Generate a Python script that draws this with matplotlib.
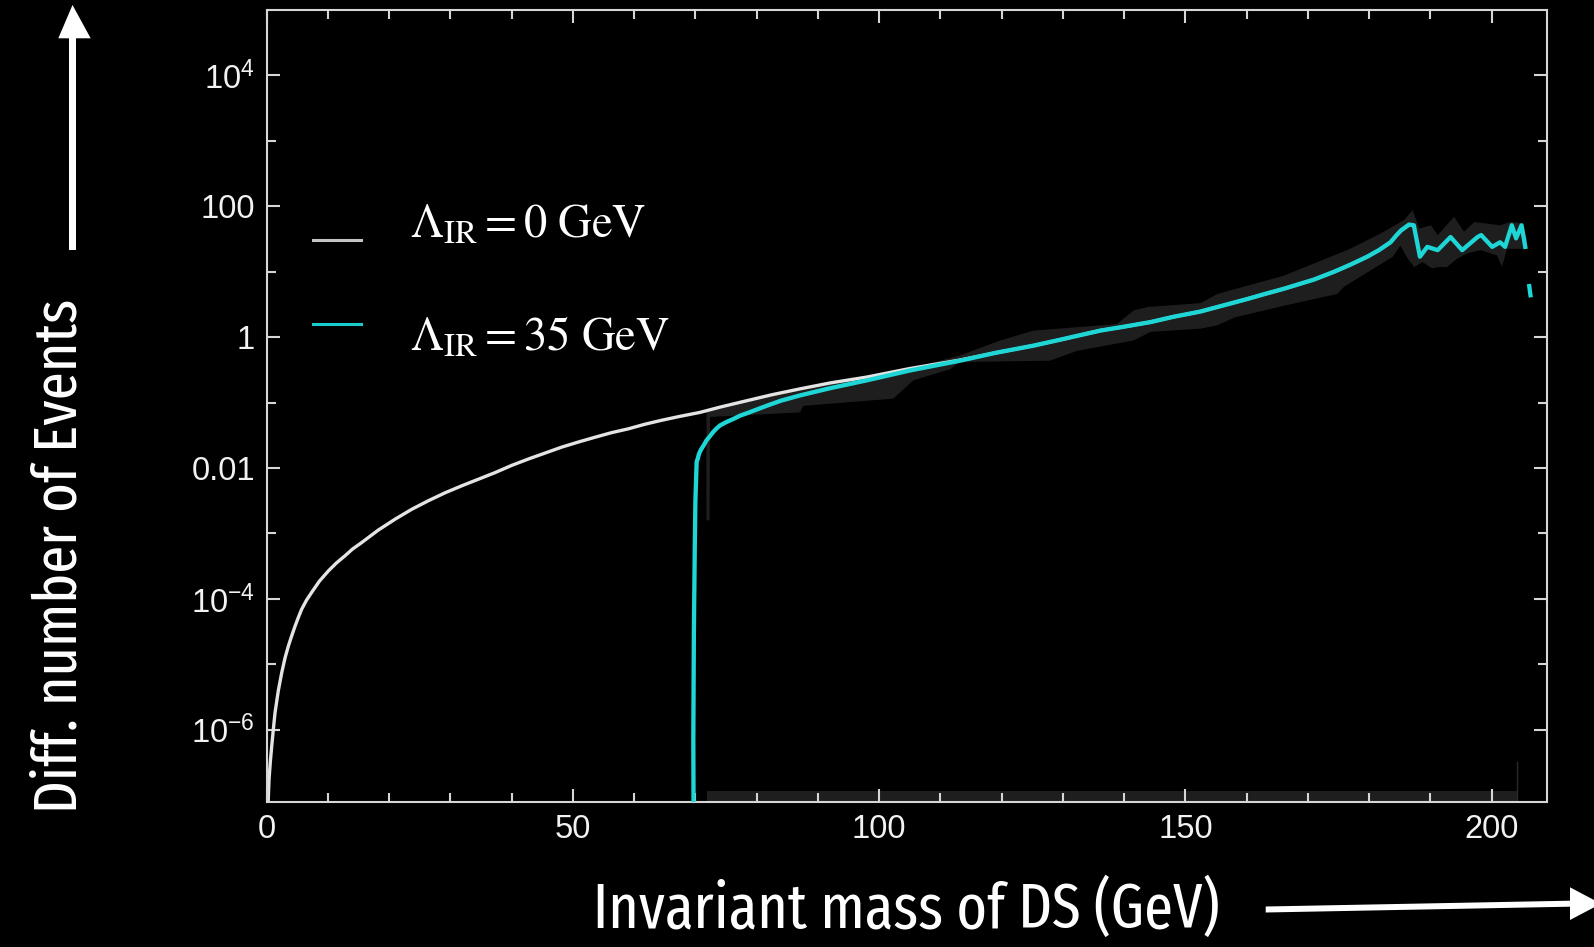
import os
import numpy as np
import matplotlib
matplotlib.use('Agg')
import matplotlib.pyplot as plt
from matplotlib import font_manager as fm
from matplotlib.lines import Line2D
from matplotlib.patches import Polygon
from matplotlib.ticker import FixedLocator, NullFormatter

W, H = 1594, 947

# ---------------- data ----------------
white_x = [0.2, 0.38, 0.6, 0.82, 1.1, 1.36, 1.9, 2.45, 3.0, 3.54, 4.1, 4.62, 5.1, 5.7,
           6.5, 7.35, 8.6, 10.1, 11.4, 12.8, 14.0, 15.5, 18.2, 21.0, 23.7, 26.4, 29.1,
           31.9, 34.6, 37.3, 40.0, 42.8, 45.5, 48.2, 51.0, 53.6, 56.3, 59.1, 61.8,
           64.5, 67.5, 70.75, 74.0, 78.0, 82.5, 87.1, 92.0, 98.0, 105.0, 113.2,
           119.0, 125.2, 130.0, 136.1, 140.0, 144.3, 148.0, 152.4, 156.0, 160.0,
           163.0, 166.1, 171.0, 174.3, 177.0, 179.7, 181.6, 183.5, 184.4, 185.2, 186.3]
white_log10 = [-7.2, -6.76, -6.48, -6.25, -5.98, -5.74, -5.40, -5.13, -4.90, -4.72,
               -4.56, -4.42, -4.30, -4.16, -4.02, -3.90, -3.73, -3.57, -3.45, -3.34,
               -3.24, -3.14, -2.95, -2.78, -2.63, -2.50, -2.38, -2.27, -2.17, -2.07,
               -1.96, -1.86, -1.77, -1.68, -1.60, -1.53, -1.46, -1.40, -1.33, -1.27,
               -1.21, -1.15, -1.07, -0.98, -0.88, -0.79, -0.70, -0.61, -0.48, -0.35,
               -0.24, -0.13, -0.03, 0.10, 0.16, 0.23, 0.31, 0.39, 0.48, 0.58, 0.66,
               0.74, 0.88, 1.0, 1.11, 1.23, 1.33, 1.45, 1.55, 1.63, 1.70]

cyan_x = [69.7, 69.66, 69.75, 69.9, 70.0, 70.2, 70.4, 70.6, 70.9, 71.3, 71.8, 72.4,
          72.9, 73.4, 74.0, 75.0, 76.2, 77.3, 78.5, 81.6, 84.0, 87.1, 92.0, 98.0,
          105.0, 113.2, 119.0, 125.2, 130.0, 136.1, 140.0, 144.3, 148.0, 152.4, 156.0,
          160.0, 163.0, 166.1, 171.0, 174.3, 177.0, 179.7, 181.6, 183.5, 184.4, 185.2,
          186.5, 187.3, 188.3, 189.5, 191.2, 193.3, 195.2, 197.7, 198.3, 200.1, 201.4,
          202.2, 203.3, 204.0, 204.9, 205.5, np.nan, 206.15, 206.35]
cyan_log10 = [-7.3, -6.15, -4.5, -3.19, -2.5, -1.91, -1.85, -1.78, -1.72, -1.66, -1.58,
              -1.51, -1.45, -1.40, -1.35, -1.30, -1.25, -1.20, -1.16, -1.05, -0.97,
              -0.89, -0.78, -0.66, -0.51, -0.36, -0.24, -0.13, -0.03, 0.10, 0.16, 0.23,
              0.31, 0.39, 0.48, 0.58, 0.66, 0.74, 0.88, 1.0, 1.11, 1.23, 1.33, 1.45,
              1.55, 1.63, 1.72, 1.71, 1.23, 1.38, 1.33, 1.53, 1.33, 1.53, 1.56, 1.38,
              1.45, 1.38, 1.71, 1.51, 1.71, 1.38, np.nan, 0.78, 0.64]

band_hi_x = [71.8, 72.7, 78.0, 87.1, 98.0, 105.0, 113.2, 119.8, 125.2, 138.8, 141.6,
             143.8, 152.5, 155.2, 166.1, 176.9, 182.4, 185.7, 187.1, 188.2, 190.1,
             191.2, 193.9, 195.5, 197.2, 201.4, 203.1, 205.0, 205.8]
band_hi_log10 = [-1.13, -1.12, -0.98, -0.79, -0.61, -0.48, -0.28, -0.05, 0.10, 0.20,
                 0.41, 0.46, 0.52, 0.66, 0.94, 1.35, 1.61, 1.79, 1.94, 1.66, 1.71,
                 1.56, 1.84, 1.61, 1.76, 1.71, 1.76, 1.74, 1.5]
band_lo_x = [71.8, 72.3, 72.4, 87.1, 87.6, 102.3, 105.6, 111.6, 113.2, 127.9, 132.3,
             141.6, 144.3, 152.5, 155.2, 158.0, 166.1, 174.8, 175.9, 183.9, 185.1,
             186.3, 187.4, 188.7, 190.3, 191.2, 192.7, 194.4, 196.0, 198.2, 200.9,
             201.7, 202.5, 205.8]
band_lo_log10 = [-2.80, -2.80, -1.22, -1.15, -1.05, -0.94, -0.66, -0.49, -0.38, -0.36,
                 -0.21, -0.05, 0.08, 0.13, 0.18, 0.30, 0.48, 0.66, 0.77, 1.23, 1.40,
                 1.20, 1.07, 1.15, 1.05, 1.07, 1.07, 1.20, 1.28, 1.33, 1.25, 1.07,
                 1.35, 1.35]

floor_band_x = [71.9, 204.1]
floor_band_log10 = [-6.93, -6.93]
floor_line_x = [204.1, 204.1]
floor_line_log10 = [-8.0, -6.5]

legend_labels = [r'$\Lambda_{\mathrm{IR}} = 0\ \mathrm{GeV}$',
                 r'$\Lambda_{\mathrm{IR}} = 35\ \mathrm{GeV}$']
xticks = [0, 50, 100, 150, 200]
xtick_labels = ['0', '50', '100', '150', '200']
xminor = [10, 20, 30, 40, 60, 70, 80, 90, 110, 120, 130, 140, 160, 170, 180, 190]
yticks = [1e4, 1e2, 1, 1e-2, 1e-4, 1e-6]
ytick_labels = [r'$\mathregular{10^{4}}$', '100', '1', '0.01',
                r'$\mathregular{10^{-4}}$', r'$\mathregular{10^{-6}}$']
yminor = [1e3, 1e1, 1e-1, 1e-3, 1e-5]
xlabel = 'Invariant mass of DS (GeV)'
ylabel = 'Diff. number of Events'

# ---------------- style ----------------
WHITE_C = '#e4e4e4'
CYAN_C = '#1ed6d6'
BAND_C = '#1e1e1e'
FRAME_C = '#d6d6d6'

plt.rcParams['font.family'] = ['Liberation Sans', 'DejaVu Sans']


def pick_condensed():
    bad = ('bold', 'black', 'light', 'thin', 'medium', 'semi', 'italic', 'oblique',
           'heavy', 'demi', 'book', 'mono')
    best = None
    for f in fm.fontManager.ttflist:
        fn = os.path.basename(f.fname).lower()
        s = (fn + ' ' + f.name.lower()).replace(' ', '').replace('-', '').replace('_', '')
        if any(b in fn for b in bad):
            continue
        if 'extracondensed' in s or 'ultracondensed' in s:
            score = 0
        elif 'condensed' in s or 'narrow' in s:
            score = 1
        else:
            continue
        if best is None or score < best[0]:
            best = (score, f.fname)
    if best is None:
        return fm.FontProperties(family='Liberation Sans')
    return fm.FontProperties(fname=best[1])


def px(x, y):
    return (x / W, 1 - y / H)


fig = plt.figure(figsize=(W / 100, H / 100), dpi=100, facecolor='black')
ax = fig.add_axes([266.7 / W, 1 - 801.7 / H, (1546.7 - 266.7) / W, (801.7 - 10) / H])
ax.set_facecolor('black')
ax.set_yscale('log')

# band
poly_x = list(band_hi_x) + list(band_lo_x[::-1])
poly_y = [10 ** v for v in band_hi_log10] + [10 ** v for v in band_lo_log10[::-1]]
ax.fill(poly_x, poly_y, color=BAND_C, lw=0, zorder=1)
ax.fill_between(floor_band_x, [1e-9, 1e-9], [10 ** v for v in floor_band_log10],
                color=BAND_C, lw=0, zorder=1)
ax.plot(floor_line_x, [10 ** v for v in floor_line_log10], color='#2a2a2a', lw=1.0, zorder=1)

ax.plot(white_x, [10 ** v for v in white_log10], color=WHITE_C, lw=2.4, zorder=2,
        solid_joinstyle='round', solid_capstyle='round')
ax.plot(cyan_x, [10 ** v if not np.isnan(v) else np.nan for v in cyan_log10],
        color=CYAN_C, lw=3.1, zorder=3, solid_joinstyle='round')

ax.set_xlim(0, 209)
ax.set_ylim(10 ** -7.1, 1e5)

ax.set_xticks(xticks, xtick_labels)
ax.xaxis.set_minor_locator(FixedLocator(xminor))
ax.set_yticks(yticks, ytick_labels)
ax.yaxis.set_minor_locator(FixedLocator(yminor))
ax.yaxis.set_minor_formatter(NullFormatter())

ax.tick_params(which='both', direction='in', top=True, right=True, color=FRAME_C,
               width=1.5, labelcolor='#f2f2f2', labelsize=23.5)
ax.tick_params(which='major', length=9.5)
ax.tick_params(which='minor', length=6.5)
ax.tick_params(axis='x', pad=9)
ax.tick_params(axis='y', pad=8.5)
for sp in ax.spines.values():
    sp.set_color(FRAME_C)
    sp.set_linewidth(1.5)

# legend samples and texts
fig.add_artist(Line2D([313 / W, 361 / W], [1 - 240 / H] * 2, color='#c4c4c4', lw=2.2))
fig.add_artist(Line2D([313 / W, 361 / W], [1 - 324 / H] * 2, color='#19cccc', lw=2.2))
for lab, yb in zip(legend_labels, [237.5, 350.5]):
    fig.text(410.5 / W, 1 - yb / H, lab, color='white', fontsize=33.5,
             math_fontfamily='stix', ha='left', va='baseline')

# axis labels with a condensed face, sized to the reference length
fp = pick_condensed()
fp = fp.copy()
fp.set_size(50)
fig.canvas.draw()
r = fig.canvas.get_renderer()
tx = fig.text(906.5 / W, 1 - 928 / H, xlabel, color='white', fontproperties=fp,
              ha='center', va='baseline', rotation_mode='anchor')
ty = fig.text(77 / W, 1 - 555.5 / H, ylabel, color='white', fontproperties=fp.copy(),
              ha='center', va='baseline', rotation=90, rotation_mode='anchor')
wx = tx.get_window_extent(r).width
tx.set_fontsize(50 * 627 / wx)
wy = ty.get_window_extent(r).height
ty.set_fontsize(50 * 515 / wy)

# arrows
ya = [px(69, 250), px(76, 250), px(76, 38.3), px(90.7, 38.3), px(72.5, 5),
      px(58.3, 38.3), px(69, 38.3)]
fig.add_artist(Polygon(ya, closed=True, transform=fig.transFigure, color='white', lw=0))
xa = [px(1265.7, 906.5), px(1570, 900.7), px(1570, 887.3), px(1601, 903.7),
      px(1570, 920), px(1570, 906.7), px(1265.7, 912.5)]
fig.add_artist(Polygon(xa, closed=True, transform=fig.transFigure, color='white', lw=0))

fig.savefig('out.png', dpi=100, facecolor='black')
